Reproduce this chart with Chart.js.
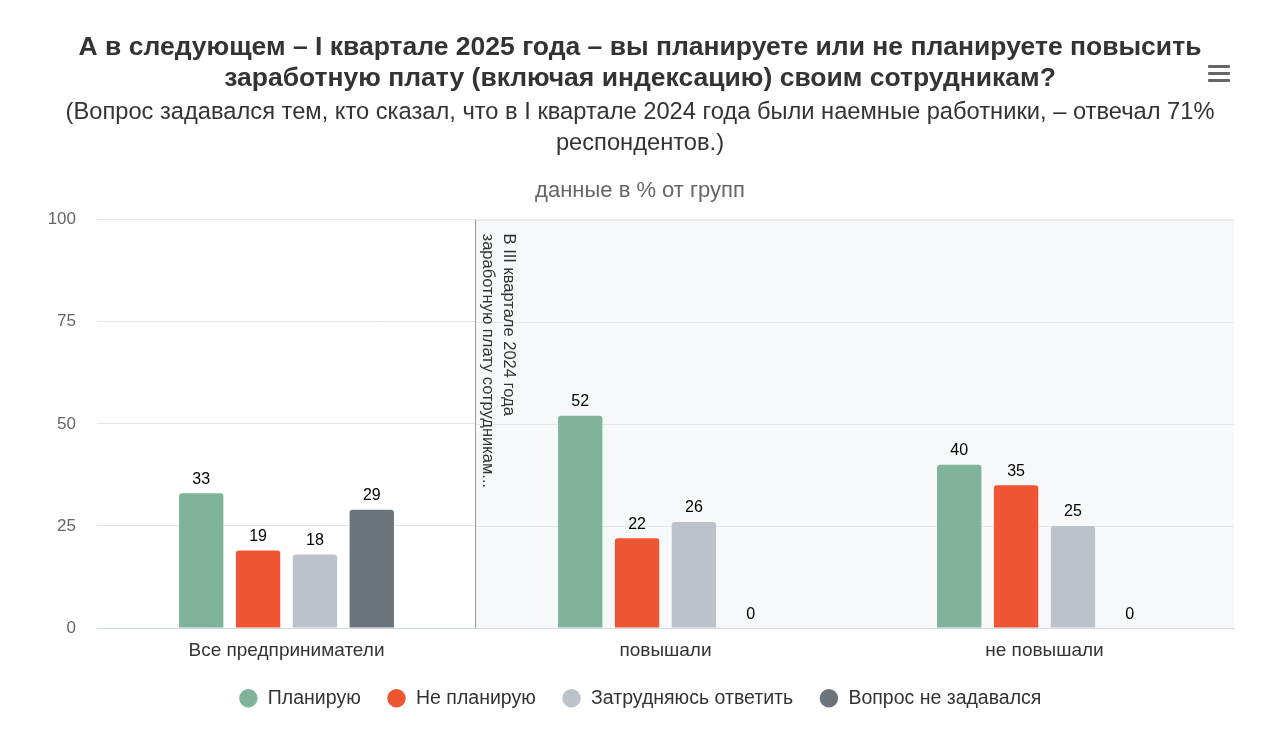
<!DOCTYPE html>
<html><head><meta charset="utf-8">
<script src="https://cdn.jsdelivr.net/npm/chart.js@4/dist/chart.umd.min.js"></script>
<style>
html,body{margin:0;padding:0;background:#fff;}
#wrap{position:relative;width:1280px;height:748px;}
#menu{position:absolute;left:1208px;top:65px;width:22px;}
#menu div{height:3px;background:#666;margin-bottom:4px;border-radius:1px;}
</style></head>
<body>
<div id="wrap"><canvas id="c" width="1280" height="748"></canvas>
<div id="menu"><div></div><div></div><div></div></div></div>
<script>
const titleLines = ["А в следующем – I квартале 2025 года – вы планируете или не планируете повысить","заработную плату (включая индексацию) своим сотрудникам?"];
const subtitleLines = ["(Вопрос задавался тем, кто сказал, что в I квартале 2024 года были наемные работники, – отвечал 71%","респондентов.)"];
const unitNote = "данные в % от групп";
const categories = ["Все предприниматели","повышали","не повышали"];
const bandLabel = ["В III квартале 2024 года","заработную плату сотрудникам..."];
const seriesNames = ["Планирую","Не планирую","Затрудняюсь ответить","Вопрос не задавался"];
const planValues = [33,52,40];
const notPlanValues = [19,22,35];
const hardValues = [18,26,25];
const notAskedValues = [29,0,0];
const yTicks = [0,25,50,75,100];
const colors = ["#7fb39a","#ee5533","#bcc2ca","#6b737b"];

const FONT = "'Liberation Sans', Arial, sans-serif";

const bandPlugin = {
  id:'band',
  beforeDatasetsDraw(chart){
    const {ctx, chartArea:a, scales:{x}} = chart;
    const left = (x.getPixelForValue(0)+x.getPixelForValue(1))/2;
    ctx.save();
    ctx.fillStyle = '#f7f8fa';
    ctx.fillRect(left, a.top, a.right-left, a.bottom-a.top);
    const y = chart.scales.y;
    ctx.strokeStyle = '#e6e6e6'; ctx.lineWidth = 1;
    yTicks.forEach(t=>{ if(t===0) return; const py=Math.round(y.getPixelForValue(t))+0.5; ctx.beginPath(); ctx.moveTo(left,py); ctx.lineTo(a.right,py); ctx.stroke();});
    ctx.strokeStyle = '#999'; ctx.lineWidth = 1;
    ctx.beginPath(); ctx.moveTo(Math.round(left)-0.5, a.top); ctx.lineTo(Math.round(left)-0.5, a.bottom); ctx.stroke();
    ctx.fillStyle = '#333';
    ctx.font = "16.5px "+FONT;
    ctx.textBaseline='middle'; ctx.textAlign='left';
    ctx.translate(left, a.top+14);
    ctx.rotate(Math.PI/2);
    ctx.fillText(bandLabel[0], 0, -33);
    ctx.fillText(bandLabel[1], 0, -11.5);
    ctx.restore();
  },
  afterDraw(chart){
    const {ctx, chartArea:a} = chart;
    ctx.save();
    ctx.fillStyle='#666'; ctx.font="22px "+FONT; ctx.textAlign='center'; ctx.textBaseline='middle';
    ctx.fillText(unitNote, 640, a.top-29);
    ctx.restore();
  }
};

const labelPlugin = {
  id:'vals',
  afterDatasetsDraw(chart){
    const {ctx} = chart;
    ctx.save();
    ctx.fillStyle='#000'; ctx.font="16px "+FONT; ctx.textAlign='center'; ctx.textBaseline='bottom';
    chart.data.datasets.forEach((ds,i)=>{
      const meta = chart.getDatasetMeta(i);
      meta.data.forEach((bar,j)=>{
        ctx.fillText(String(ds.data[j]), bar.x, bar.y-6);
      });
    });
    ctx.restore();
  }
};

new Chart(document.getElementById('c'),{
  type:'bar',
  data:{
    labels:categories,
    datasets:[
      {label:seriesNames[0],data:planValues,backgroundColor:colors[0]},
      {label:seriesNames[1],data:notPlanValues,backgroundColor:colors[1]},
      {label:seriesNames[2],data:hardValues,backgroundColor:colors[2]},
      {label:seriesNames[3],data:notAskedValues,backgroundColor:colors[3]}
    ]
  },
  options:{
    responsive:false, animation:false,
    layout:{padding:{left:46,right:46,top:0,bottom:30}},
    datasets:{bar:{categoryPercentage:0.6,barPercentage:0.78,borderRadius:3,borderSkipped:'bottom'}},
    scales:{
      x:{grid:{display:false,drawTicks:true,tickLength:11.6},border:{display:true,color:'#ccd6eb'},
         ticks:{color:'#333',font:{family:FONT,size:19,lineHeight:1.2},padding:0}},
      y:{min:0,max:100,afterBuildTicks(s){s.ticks=yTicks.map(v=>({value:v}));},
         afterFit(s){s.width=51;},
         grid:{color:'#e6e6e6',drawTicks:false},border:{display:false},
         ticks:{color:'#666',font:{family:FONT,size:17},padding:21}}
    },
    plugins:{
      title:{display:true,text:titleLines,color:'#333',font:{family:FONT,size:26.5,weight:'bold',lineHeight:1.17},padding:{top:32.5,bottom:2}},
      subtitle:{display:true,text:subtitleLines,color:'#333',font:{family:FONT,size:23.7,lineHeight:1.31},padding:{top:0,bottom:61}},
      legend:{position:'bottom',labels:{usePointStyle:true,pointStyle:'circle',boxWidth:20,boxHeight:13,padding:26,color:'#333',font:{family:FONT,size:19.5,lineHeight:1}}},
      tooltip:{enabled:false}
    }
  },
  plugins:[bandPlugin,labelPlugin]
});
</script>
</body></html>
